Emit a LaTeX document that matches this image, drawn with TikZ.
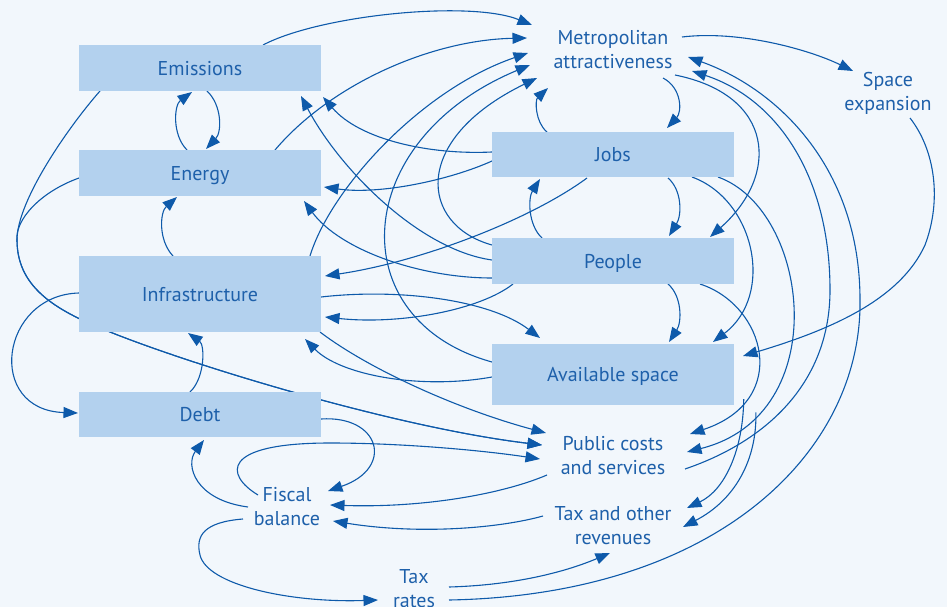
\documentclass[tikz,border=0pt]{standalone}
\usepackage{fontspec}
\setmainfont{PT Sans}
\usetikzlibrary{arrows.meta,calc}
\definecolor{bgc}{RGB}{242,247,252}
\definecolor{boxc}{RGB}{179,209,238}
\definecolor{linec}{RGB}{14,90,170}
\definecolor{txtc}{RGB}{30,96,170}
\pgfdeclarelayer{bglayer}
\pgfdeclarelayer{edgelayer}
\pgfsetlayers{bglayer,edgelayer,main}
\begin{document}
\begin{tikzpicture}[x=1pt,y=-1pt,
  box/.style={fill=boxc,draw=none,minimum width=242pt,inner sep=0pt,text=txtc,
    text height=14.4pt,text depth=0pt,font=\fontsize{20}{24}\selectfont},
  lbl/.style={text=txtc,align=center,inner sep=0pt,font=\fontsize{20}{24}\selectfont},
  edge/.style={draw=linec,line width=1.1pt,-{Triangle[length=14.5pt,width=11pt]}}]
\useasboundingbox (0,0) rectangle (947,607);
\begin{pgfonlayer}{bglayer}
\fill[bgc] (0,0) rectangle (947,607);
\end{pgfonlayer}
% nodes
\node[box,minimum height=46pt] (em) at (200,68) {Emissions};
\node[box,minimum height=46pt] (en) at (200,173) {Energy};
\node[box,minimum height=76pt] (inf) at (200,294) {Infrastructure};
\node[box,minimum height=45pt] (debt) at (200,414.5) {Debt};
\node[box,minimum height=45pt] (jobs) at (613,154.5) {Jobs};
\node[box,minimum height=46pt] (ppl) at (613,261) {People};
\node[box,minimum height=61pt] (av) at (613,374.5) {Available space};
\node[lbl] (metro) at (613,50) {Metropolitan\\attractiveness};
\node[lbl] (space) at (888,93) {Space\\expansion};
\node[lbl] (pub) at (613,456) {Public costs\\and services};
\node[lbl] (taxrev) at (613,526) {Tax and other\\revenues};
\node[lbl] (fisc) at (287,507) {Fiscal\\balance};
\node[lbl] (taxr) at (414,589) {Tax\\rates};
\begin{pgfonlayer}{edgelayer}
% left column
\draw[edge] ($(em)+(7,23)$) .. controls (222,105) and (222,132) .. ($(en)+(6,-24)$);
\draw[edge] ($(en)+(-13,-23)$) .. controls (172,135) and (174,105) .. ($(em)+(-8,24)$);
\draw[edge] ($(inf)+(-27,-38)$) .. controls (158,240) and (160,212) .. ($(en)+(-23,24)$);
\draw[edge] ($(debt)+(-10,-22.5)$) .. controls (205,378) and (205,345) .. ($(inf)+(-12,39)$);
\draw[edge] ($(inf)+(-121,-1)$) .. controls (0,295) and (-15,410) .. ($(debt)+(-122,-1.5)$);
\draw[edge] ($(em)+(-100,23)$) .. controls (70,125) and (17,200) .. (17,240) .. controls (17,290) and (60,312) .. (110,332) .. controls (200,368) and (400,428) .. ($(pub)+(-71,-11)$);
\draw[edge] ($(en)+(-121,5)$) .. controls (40,192) and (15,220) .. (17,240) .. controls (17,290) and (60,312) .. (110,332) .. controls (200,368) and (400,428) .. ($(pub)+(-71,-11)$);
% to metropolitan attractiveness (left)
\draw[edge] ($(em)+(63,-23)$) .. controls (320,15) and (470,0) .. ($(metro)+(-81,-25)$);
\draw[edge] ($(en)+(75,-23)$) .. controls (330,85) and (430,40) .. ($(metro)+(-86,-12)$);
\draw[edge] ($(inf)+(110,-38)$) .. controls (330,190) and (420,90) .. ($(metro)+(-85,3)$);
\draw[edge] ($(av)+(-121,-12.5)$) .. controls (340,320) and (350,140) .. ($(metro)+(-83,15)$);
\draw[edge] ($(ppl)+(-121,-16)$) .. controls (420,225) and (410,140) .. ($(metro)+(-76,28)$);
\draw[edge] ($(jobs)+(-66,-22.5)$) .. controls (535,122) and (535,100) .. ($(metro)+(-65,38)$);
% from jobs/people to left boxes
\draw[edge] ($(jobs)+(-121,-2.5)$) .. controls (430,155) and (360,140) .. ($(em)+(123,29)$);
\draw[edge] ($(jobs)+(-121,6.5)$) .. controls (450,180) and (380,195) .. ($(en)+(124,14)$);
\draw[edge] ($(ppl)+(-121,-1)$) .. controls (420,250) and (340,170) .. ($(em)+(101,28)$);
\draw[edge] ($(ppl)+(-121,17)$) .. controls (420,278) and (340,250) .. ($(en)+(104,28)$);
\draw[edge] ($(jobs)+(-26,23.5)$) .. controls (530,220) and (420,262) .. ($(inf)+(125,-18)$);
\draw[edge] ($(ppl)+(-100,23)$) .. controls (480,310) and (400,325) .. ($(inf)+(125,23)$);
\draw[edge] ($(av)+(-121,2.5)$) .. controls (420,390) and (340,375) .. ($(inf)+(105,45)$);
\draw[edge] ($(inf)+(121,3)$) .. controls (400,288) and (490,300) .. ($(av)+(-73,-36.5)$);
\draw[edge] ($(inf)+(120,38)$) .. controls (370,370) and (460,410) .. ($(pub)+(-67,-23)$);
% fiscal loop
\draw[edge] ($(fisc)+(-29,-12)$) .. controls (225,475) and (220,443) .. (330,443) .. controls (400,443) and (480,450) .. ($(pub)+(-73,3)$);
\draw[edge] ($(debt)+(121,4.5)$) .. controls (380,415) and (395,468) .. ($(fisc)+(41,-16)$);
\draw[edge] ($(fisc)+(-39,0)$) .. controls (195,500) and (185,465) .. ($(debt)+(4,25.5)$);
\draw[edge] ($(fisc)+(-44,12)$) .. controls (205,522) and (195,535) .. (200,555) .. controls (207,585) and (290,603) .. ($(taxr)+(-36,11)$);
\draw[edge] ($(pub)+(-66,19)$) .. controls (500,495) and (420,508) .. ($(fisc)+(43,-2)$);
\draw[edge] ($(taxrev)+(-70,-10)$) .. controls (500,528) and (420,535) .. ($(fisc)+(46,14)$);
\draw[edge] ($(taxr)+(35,-2)$) .. controls (520,585) and (570,570) .. ($(taxrev)+(-3,27)$);
% big arcs on the right
\draw[edge] ($(taxr)+(35,11)$) .. controls (720,595) and (862,450) .. (860,300) .. controls (860,170) and (780,90) .. ($(metro)+(75,7)$);
\draw[edge] ($(pub)+(72,13)$) .. controls (770,440) and (830,380) .. (830,290) .. controls (830,180) and (780,100) .. ($(metro)+(79,21)$);
\draw[edge] ($(metro)+(69,-13)$) .. controls (740,30) and (810,50) .. ($(space)+(-35,-22)$);
\draw[edge] ($(space)+(22,25)$) .. controls (935,150) and (942,200) .. (925,245) .. controls (900,300) and (830,330) .. ($(av)+(130,-18.5)$);
% right column
\draw[edge] ($(metro)+(50,28)$) .. controls (682,88) and (682,112) .. ($(jobs)+(54,-26.5)$);
\draw[edge] ($(metro)+(62,25)$) .. controls (775,95) and (780,175) .. ($(ppl)+(97,-24)$);
\draw[edge] ($(jobs)+(55,23.5)$) .. controls (682,190) and (682,215) .. ($(ppl)+(56,-25)$);
\draw[edge] ($(ppl)+(-71,-23)$) .. controls (528,225) and (528,198) .. ($(jobs)+(-73,24.5)$);
\draw[edge] ($(ppl)+(55,23)$) .. controls (682,296) and (682,322) .. ($(av)+(56,-32.5)$);
\draw[edge] ($(jobs)+(79,22.5)$) .. controls (755,200) and (775,295) .. ($(av)+(100,-32.5)$);
\draw[edge] ($(ppl)+(87,23)$) .. controls (765,305) and (792,400) .. ($(pub)+(77,-22)$) coordinate[pos=0.75] (b1);
\draw[edge] ($(jobs)+(105,22.5)$) .. controls (810,210) and (835,415) .. ($(pub)+(74,-4)$) coordinate[pos=0.8] (b2);
\draw[edge] (b1) .. controls (743,450) and (725,490) .. ($(taxrev)+(74,-18)$);
\draw[edge] (b2) .. controls (757,460) and (735,500) .. ($(taxrev)+(70,1)$);
\end{pgfonlayer}
\end{tikzpicture}
\end{document}
